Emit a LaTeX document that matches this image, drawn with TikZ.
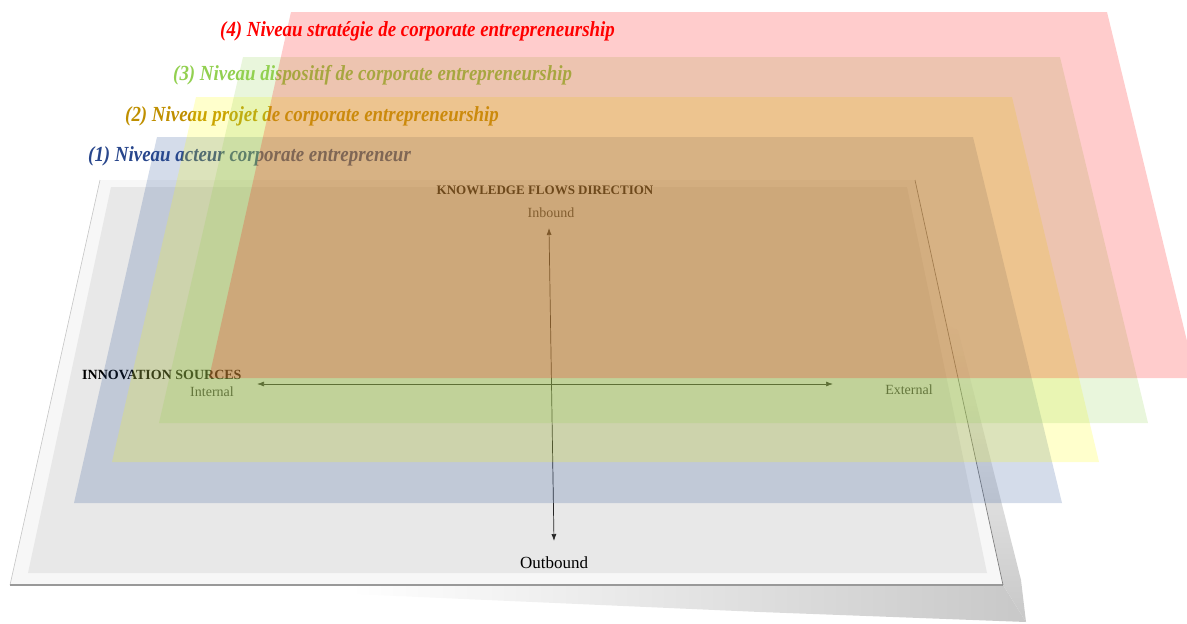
\documentclass[tikz,border=0pt]{standalone}
\usepackage{fontspec}
\setmainfont{Liberation Serif}
\usetikzlibrary{arrows.meta}
\definecolor{planered}{RGB}{255,0,0}
\definecolor{planegreen}{RGB}{146,208,80}
\definecolor{planeyellow}{RGB}{255,255,0}
\definecolor{planeblue}{RGB}{40,80,150}
\definecolor{titlered}{RGB}{255,0,0}
\definecolor{titlegreen}{RGB}{146,208,80}
\definecolor{titlegold}{RGB}{191,143,0}
\definecolor{titleblue}{RGB}{40,70,140}
\definecolor{sheetborder}{RGB}{247,247,247}
\definecolor{sheetinner}{RGB}{232,232,232}
\definecolor{shadowgray}{RGB}{200,200,200}
\newcommand{\condensed}[1]{\scalebox{0.88}[1]{#1}}
\begin{document}
\begin{tikzpicture}[x=1pt,y=-1pt,
  plane/.style={fill=#1,fill opacity=0.2,draw=none},
  leveltitle/.style={anchor=west,inner sep=0pt,font=\fontsize{21.5}{24}\selectfont\bfseries\itshape,text=#1},
  axisarrow/.style={draw=black!85,line width=0.7pt,{Latex[length=7pt,width=5pt]}-{Latex[length=7pt,width=5pt]}},
  caplabel/.style={inner sep=0pt,font=\fontsize{13}{13}\selectfont\bfseries},
  smalllabel/.style={inner sep=0pt,font=\fontsize{14}{14}\selectfont,text=black!80}]
\useasboundingbox (0,0) rectangle (1187,624);

% shadow of the sheet
\shade[left color=white,right color=shadowgray] (350,586) -- (1003,585) -- (1026,622) -- (760,612) -- (350,594) -- cycle;
\shade[top color=white,bottom color=shadowgray] (935,320) -- (1003,585) -- (1026,622) -- (1021,580) -- (958,330) -- cycle;

% the sheet
\fill[sheetborder] (100,180) -- (915,180) -- (1003,585) -- (10,585) -- cycle;
\draw[black!22,line width=0.6pt] (100,180) -- (10,585);
\draw[black!40,line width=1.4pt] (10,585) -- (1003,585);
\draw[black!50,line width=0.7pt] (915,180) -- (1003,585);
\fill[sheetinner] (111,187) -- (907,187) -- (987,573) -- (28,573) -- cycle;

% sheet labels
\node[caplabel] (kfd) at (545,190) {KNOWLEDGE FLOWS DIRECTION};
\node[smalllabel] (inb) at (551,213) {Inbound};
\node[inner sep=0pt,font=\fontsize{17}{17}\selectfont] (outb) at (554,563) {Outbound};
\node[caplabel,anchor=west,font=\fontsize{14}{14}\selectfont\bfseries] (ins) at (82,375) {INNOVATION SOURCES};
\node[smalllabel] (intl) at (212,392) {Internal};
\node[smalllabel] (extl) at (909,390) {External};

\coordinate (vtop) at (549,228);
\coordinate (vbot) at (554,541);
\coordinate (hleft) at (257,384);
\coordinate (hright) at (833,384);
\draw[axisarrow] (vtop) -- (vbot);
\draw[axisarrow] (hleft) -- (hright);

% level titles
\node[leveltitle=titlered] (t4) at (220,31) {\condensed{(4) Niveau stratégie de corporate entrepreneurship}};
\node[leveltitle=titlegreen] (t3) at (173,75) {\condensed{(3) Niveau dispositif de corporate entrepreneurship}};
\node[leveltitle=titlegold] (t2) at (125,116) {\condensed{(2) Niveau projet de corporate entrepreneurship}};
\node[leveltitle=titleblue] (t1) at (88,156) {\condensed{(1) Niveau acteur corporate entrepreneur}};

% translucent planes
\fill[plane=planeblue] (157,137) -- (973,137) -- (1062,503) -- (74,503) -- cycle;
\fill[plane=planeyellow] (196,97) -- (1012,97) -- (1099,462) -- (112,462) -- cycle;
\fill[plane=planegreen] (243,57) -- (1060,57) -- (1148,423) -- (159,423) -- cycle;
\fill[plane=planered] (291,12) -- (1107,12) -- (1196,378) -- (209,378) -- cycle;
\end{tikzpicture}
\end{document}
